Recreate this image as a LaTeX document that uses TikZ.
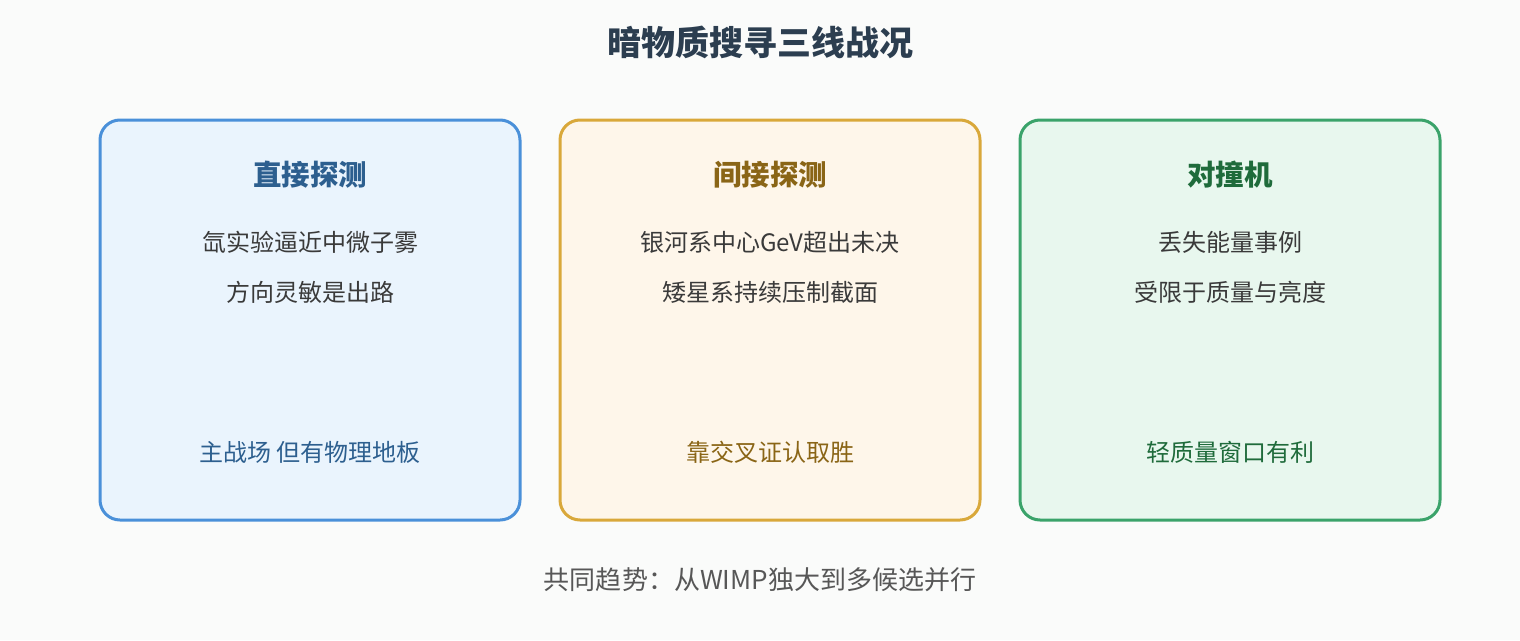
\documentclass[tikz,border=0pt]{standalone}
\usepackage{fontspec}
\setmainfont{Noto Sans CJK SC}
\usepackage{xcolor}
\usetikzlibrary{positioning}
\definecolor{bgc}{HTML}{FAFBFA}
\definecolor{titlec}{HTML}{2C3E50}
\definecolor{bodyc}{HTML}{3A3A3A}
\definecolor{blueb}{HTML}{4A90D9}\definecolor{bluef}{HTML}{EAF4FD}\definecolor{bluet}{HTML}{2D5F8F}
\definecolor{orab}{HTML}{D9A83A}\definecolor{oraf}{HTML}{FEF6EA}\definecolor{orat}{HTML}{8A6516}
\definecolor{greb}{HTML}{3AA36A}\definecolor{gref}{HTML}{E8F7EE}\definecolor{gret}{HTML}{1F6B3B}
\begin{document}
\begin{tikzpicture}[x=1pt,y=-1pt]
    \tikzstyle{every node}=[inner sep=0pt]
    \tikzstyle{card}=[draw,line width=3pt,rounded corners=20pt,minimum width=420pt,minimum height=400pt]
    \tikzstyle{head}=[font=\fontsize{28.5}{32}\selectfont\bfseries]
    \tikzstyle{body}=[font=\fontsize{24}{28}\selectfont,text=bodyc]

    \fill[bgc] (0,0) rectangle (1520,640);
    \node[font=\fontsize{34}{40}\selectfont\bfseries,text=titlec] (title) at (760,42) {暗物质搜寻三线战况};

    \node[card,draw=blueb,fill=bluef] (direct) at (310,320) {};
    \node[card,draw=orab,fill=oraf] (indirect) at (770,320) {};
    \node[card,draw=greb,fill=gref] (collider) at (1230,320) {};

    \node[head,text=bluet] (directh) at (310,175) {直接探测};
    \node[body] (directa) at (310,242) {氙实验逼近中微子雾};
    \node[body] (directb) at (310,292) {方向灵敏是出路};
    \node[body,text=bluet] (directc) at (310,452) {主战场 但有物理地板};

    \node[head,text=orat] (indirecth) at (770,175) {间接探测};
    \node[body] (indirecta) at (770,242) {银河系中心GeV超出未决};
    \node[body] (indirectb) at (770,292) {矮星系持续压制截面};
    \node[body,text=orat] (indirectc) at (770,452) {靠交叉证认取胜};

    \node[head,text=gret] (colliderh) at (1230,175) {对撞机};
    \node[body] (collidera) at (1230,242) {丢失能量事例};
    \node[body] (colliderb) at (1230,292) {受限于质量与亮度};
    \node[body,text=gret] (colliderc) at (1230,452) {轻质量窗口有利};

    \node[font=\fontsize{26}{30}\selectfont,text=bodyc!85] (trend) at (760,580) {共同趋势：从WIMP独大到多候选并行};
\end{tikzpicture}
\end{document}
